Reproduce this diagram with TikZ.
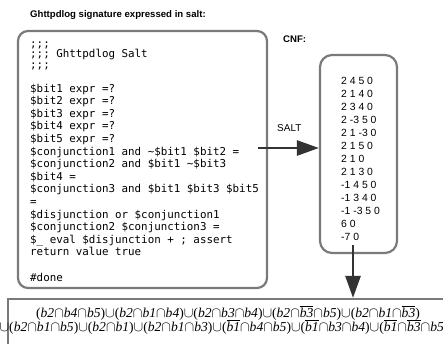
\documentclass[tikz,border=0pt]{standalone}
\usepackage{fontspec}
\setmainfont{Liberation Serif}
\newfontfamily\hel{Liberation Sans}
\newfontfamily\mono{DejaVu Sans Mono}
\usetikzlibrary{arrows.meta}
\definecolor{bordergray}{HTML}{7A7A7A}
\definecolor{arrowdark}{HTML}{333333}
\newcommand\mycap{\ensuremath{\cap}}
\newcommand\mycup{\ensuremath{\cup}}
\newcommand\myov[1]{\ensuremath{\overline{\mbox{\itshape b#1}}}}
\newcommand\bb[1]{\textit{b#1}}
\begin{document}
\begin{tikzpicture}[x=1pt,y=-1pt,
  panel/.style={draw=bordergray,line width=2.2pt,inner sep=0pt},
  codeline/.style={anchor=base west,inner sep=0pt,font=\mono\fontsize{10.85}{12}\selectfont},
  cnfline/.style={anchor=base west,inner sep=0pt,font=\hel\fontsize{10.4}{12}\selectfont},
  heading/.style={anchor=base west,inner sep=0pt,font=\hel\bfseries\fontsize{9.6}{11}\selectfont},
  formula/.style={anchor=base,inner sep=0pt,font=\fontsize{13.6}{15}\selectfont},
  bigarrow/.style={draw=arrowdark,line width=2.7pt,-{Triangle[length=22pt,width=15pt]}}]
\clip (0,0) rectangle (443,343);
\fill[white] (0,0) rectangle (443,343);
% panels
\node[panel,rounded corners=10pt,minimum width=249pt,minimum height=257pt] (codebox) at (142.5,159.5) {};
\node[panel,rounded corners=12pt,minimum width=77pt,minimum height=198pt] (cnfbox) at (358.5,154) {};
\node[panel,minimum width=452pt,minimum height=61pt] (formbox) at (234,329.5) {};
% headings
\node[heading] (title) at (30,17) {Ghttpdlog signature expressed in salt:};
\node[heading] (cnftitle) at (283,42) {CNF:};
\node[cnfline,font=\hel\fontsize{10}{12}\selectfont] (salt) at (277,131) {SALT};
% code
\node[codeline] (h1) at (30,47) {;;;};
\node[codeline] (h2) at (30,57.5) {;;; Ghttpdlog Salt};
\node[codeline] (h3) at (30,68) {;;;};
\foreach \t [count=\i from 0] in {
  {\$bit1 expr =?},
  {\$bit2 expr =?},
  {\$bit3 expr =?},
  {\$bit4 expr =?},
  {\$bit5 expr =?},
  {\$conjunction1 and \textasciitilde\$bit1 \$bit2 =},
  {\$conjunction2 and \$bit1 \textasciitilde\$bit3},
  {\$bit4 =},
  {\$conjunction3 and \$bit1 \$bit3 \$bit5},
  {=},
  {\$disjunction or \$conjunction1},
  {\$conjunction2 \$conjunction3 =},
  {\$\_ eval \$disjunction + ; assert},
  {return value true}}
  \node[codeline] (c\i) at (30,92+12.6*\i) {\t};
\node[codeline] (done) at (30,281) {\#done};
% cnf
\foreach \t [count=\i from 0] in {
  {2 4 5 0},{2 1 4 0},{2 3 4 0},{2 -3 5 0},{2 1 -3 0},{2 1 5 0},{2 1 0},
  {2 1 3 0},{-1 4 5 0},{-1 3 4 0},{-1 -3 5 0},{6 0},{-7 0}}
  \node[cnfline] (n\i) at (341,84+13*\i) {\t};
% formula
\node[formula] (f1) at (228,317) {(\bb2\mycap\bb4\mycap\bb5)\mycup(\bb2\mycap\bb1\mycap\bb4)\mycup(\bb2\mycap\bb3\mycap\bb4)\mycup(\bb2\mycap\myov3\mycap\bb5)\mycup(\bb2\mycap\bb1\mycap\myov3)};
\node[formula] (f2) at (224,331) {\mycup(\bb2\mycap\bb1\mycap\bb5)\mycup(\bb2\mycap\bb1)\mycup(\bb2\mycap\bb1\mycap\bb3)\mycup(\myov1\mycap\bb4\mycap\bb5)\mycup(\myov1\mycap\bb3\mycap\bb4)\mycup(\myov1\mycap\myov3\mycap\bb5)};
% arrows
\coordinate (a1) at (258,148);
\coordinate (a2) at (353,245);
\draw[bigarrow] (a1) -- (a1 -| cnfbox.west);
\draw[bigarrow] (a2) -- (a2 |- formbox.north);
\end{tikzpicture}
\end{document}
